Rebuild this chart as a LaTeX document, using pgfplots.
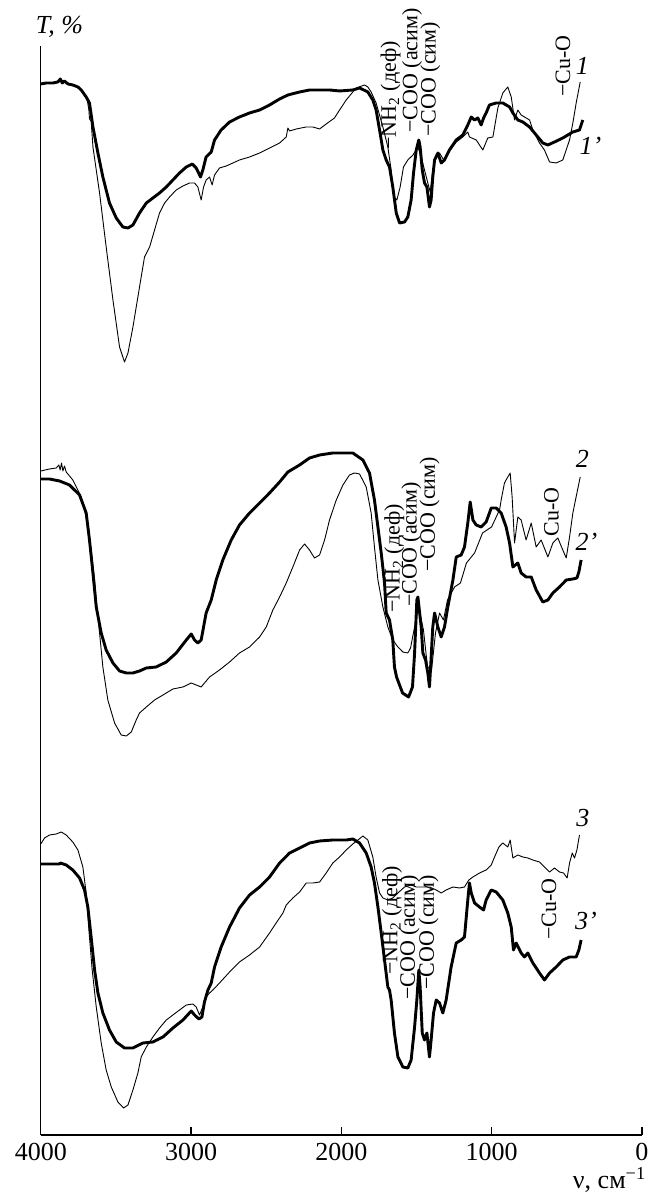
\documentclass[border=0pt]{standalone}
\usepackage{fontspec}
\setmainfont{Liberation Serif}
\usepackage{pgfplots}
\pgfplotsset{compat=1.18}
\newcommand{\annfont}{\fontsize{11}{13}\selectfont}
\newcommand{\labfont}{\fontsize{13}{15}\selectfont\itshape}
\newcommand{\tickfont}{\fontsize{13}{15}\selectfont}
\begin{document}
\begin{tikzpicture}
\begin{axis}[
  at={(0pt,0pt)}, anchor=south west,
  scale only axis, width=300.6pt, height=544.5pt,
  x dir=reverse, xmin=0, xmax=4000, ymin=63, ymax=1152,
  axis lines=left, axis line style={-, line width=0.6pt},
  xtick={0,1000,2000,3000,4000},
  xticklabels={0,1000,2000,3000,4000},
  ytick=\empty,
  tick align=inside, major tick length=4.2pt,
  tick style={line width=0.6pt, black},
  xticklabel style={font=\tickfont, yshift=-0.5pt},
  clip=false,
  every axis plot/.append style={black, line join=round, mark=none},
]
% ---------- panel 1 : thick (1')
\addplot[line width=1.45pt] coordinates {
(4000,1114)(3964,1115)(3919,1115)(3886,1116)(3870,1119)(3857,1115)(3842,1117)(3820,1114)
(3787,1113)(3753,1111)(3731,1108)(3698,1101)(3676,1095)(3653,1071)(3620,1045)(3587,1021)
(3543,995)(3498,980)(3454,971)(3420,970)(3387,973)(3343,985)(3298,995)(3254,1000)(3210,1005)
(3165,1011)(3121,1018)(3077,1025)(3032,1031)(2992,1034)(2966,1030)(2937,1021)(2922,1028)
(2900,1041)(2866,1046)(2844,1058)(2800,1068)(2744,1076)(2678,1081)(2611,1085)(2544,1088)
(2478,1093)(2411,1099)(2356,1103)(2278,1106)(2212,1108)(2079,1108)(2012,1107)(1924,1108)
(1879,1110)(1824,1106)(1791,1098)(1769,1088)(1746,1068)(1724,1048)(1702,1038)(1680,1031)
(1658,1011)(1635,985)(1613,975)(1580,976)(1558,981)(1536,998)(1520,1025)(1502,1048)
(1485,1058)(1476,1051)(1462,1028)(1447,1015)(1431,1011)(1414,991)(1403,998)(1392,1021)
(1380,1038)(1358,1045)(1336,1035)(1314,1038)(1281,1048)(1236,1058)(1192,1063)(1159,1073)
(1136,1081)(1114,1078)(1092,1080)(1070,1073)(1054,1080)(1037,1085)(1015,1093)(970,1095)
(926,1095)(881,1091)(859,1085)(826,1078)(793,1076)(748,1071)(704,1063)(660,1055)(626,1053)
(582,1056)(527,1060)(460,1066)(416,1068)(394,1078)
};
% ---------- panel 1 : thin (1)
\addplot[line width=0.45pt] coordinates {
(4000,1114)(3919,1115)(3870,1118)(3820,1115)(3753,1111)(3720,1106)(3691,1098)(3680,1088)
(3676,1079)(3665,1077)(3653,1051)(3609,1005)(3565,951)(3520,898)(3476,851)(3443,836)
(3420,845)(3387,871)(3343,911)(3310,941)(3276,951)(3243,968)(3210,985)(3176,995)(3143,1001)
(3099,1008)(3054,1012)(3010,1015)(2977,1015)(2955,1011)(2933,998)(2917,1011)(2900,1018)
(2877,1021)(2860,1013)(2844,1023)(2811,1030)(2766,1032)(2722,1035)(2678,1038)(2611,1041)
(2544,1045)(2478,1050)(2411,1055)(2367,1061)(2356,1070)(2345,1067)(2300,1069)(2234,1071)
(2190,1071)(2145,1069)(2101,1074)(2046,1080)(2012,1088)(1968,1098)(1924,1106)(1901,1110)
(1846,1113)(1824,1111)(1802,1106)(1769,1095)(1724,1071)(1691,1051)(1669,1028)(1651,1001)
(1631,998)(1609,1011)(1587,1031)(1558,1038)(1524,1043)(1491,1051)(1469,1041)(1447,1028)
(1425,1015)(1409,1006)(1392,1028)(1369,1043)(1347,1045)(1320,1038)(1281,1047)(1236,1056)
(1192,1061)(1159,1066)(1148,1061)(1103,1058)(1081,1053)(1059,1048)(1026,1060)(992,1061)
(959,1090)(926,1105)(893,1111)(870,1101)(848,1078)(826,1088)(804,1083)(771,1080)(748,1078)
(726,1068)(682,1055)(649,1048)(615,1036)(571,1035)(527,1038)(482,1058)(460,1075)(438,1095)
(411,1116)
};
% ---------- panel 2 : thick (2')
\addplot[line width=1.45pt] coordinates {
(4000,719)(3942,719)(3875,717)(3809,713)(3742,703)(3698,685)(3676,658)(3653,625)(3631,591)
(3598,565)(3565,548)(3520,535)(3476,527)(3431,525)(3387,525)(3343,527)(3298,530)(3232,531)
(3165,536)(3099,545)(3032,558)(2999,564)(2977,558)(2955,555)(2933,558)(2917,571)(2900,585)
(2866,598)(2833,618)(2789,638)(2733,658)(2678,673)(2611,685)(2544,695)(2478,705)(2411,716)
(2356,726)(2278,733)(2212,740)(2145,743)(2057,745)(1968,745)(1924,745)(1857,738)(1813,725)
(1780,698)(1757,671)(1735,645)(1713,615)(1702,585)(1680,578)(1658,558)(1647,531)(1633,521)
(1593,505)(1553,501)(1527,511)(1513,545)(1498,598)(1491,601)(1469,571)(1458,545)(1440,538)
(1425,525)(1414,511)(1403,540)(1392,571)(1380,585)(1358,571)(1336,561)(1314,571)(1292,591)
(1258,618)(1236,641)(1203,643)(1181,651)(1159,675)(1143,696)(1125,678)(1103,673)(1070,671)
(1037,676)(1003,690)(970,690)(937,685)(904,671)(881,655)(859,631)(826,635)(804,625)(771,621)
(737,621)(704,608)(660,596)(626,598)(593,605)(549,611)(504,618)(460,619)(433,620)(420,626)
(405,638)
};
% ---------- panel 2 : thin (2)
\addplot[line width=0.45pt] coordinates {
(4000,727)(3942,729)(3897,730)(3880,733)(3871,728)(3862,735)(3853,727)(3842,732)(3831,726)
(3787,718)(3731,701)(3698,681)(3665,648)(3642,618)(3627,591)(3609,565)(3587,531)(3554,498)
(3509,475)(3465,463)(3431,462)(3398,466)(3365,478)(3343,485)(3298,491)(3243,498)(3187,503)
(3121,509)(3054,511)(2999,515)(2966,513)(2933,511)(2911,515)(2877,521)(2811,528)(2744,536)
(2678,545)(2611,551)(2544,561)(2500,571)(2456,588)(2411,601)(2367,615)(2323,631)(2278,648)
(2245,654)(2212,648)(2179,640)(2145,643)(2112,658)(2079,678)(2034,698)(1990,713)(1946,723)
(1913,725)(1879,724)(1835,711)(1802,685)(1780,651)(1757,618)(1724,591)(1691,571)(1658,558)
(1624,551)(1591,546)(1558,545)(1540,550)(1513,571)(1487,591)(1454,568)(1427,531)(1400,528)
(1374,565)(1347,585)(1321,578)(1294,598)(1247,611)(1208,615)(1168,635)(1114,645)(1061,665)
(1001,671)(948,688)(937,698)(915,715)(893,721)(877,725)(864,701)(848,655)(826,681)(804,678)
(771,658)(737,675)(704,651)(671,658)(626,641)(593,655)(560,660)(527,648)(504,640)(482,661)
(460,685)(433,705)(411,721)
};
% ---------- panel 3 : thick (3')
\addplot[line width=1.45pt] coordinates {
(4000,334)(3942,334)(3875,334)(3871,335)(3831,333)(3787,328)(3742,320)(3709,308)(3687,291)
(3665,261)(3642,228)(3620,205)(3587,185)(3543,168)(3498,156)(3443,150)(3387,150)(3321,155)
(3254,156)(3187,161)(3121,170)(3054,178)(2999,187)(2977,183)(2948,179)(2928,181)(2911,196)
(2888,208)(2866,215)(2844,231)(2800,251)(2744,271)(2678,290)(2611,303)(2544,311)(2478,321)
(2411,335)(2345,345)(2278,350)(2212,355)(2145,357)(2057,358)(1968,358)(1924,359)(1879,355)
(1835,345)(1802,331)(1780,315)(1757,291)(1735,265)(1713,238)(1691,211)(1680,208)(1669,198)
(1647,165)(1624,141)(1591,131)(1558,130)(1536,138)(1513,171)(1498,198)(1485,228)(1476,211)
(1462,165)(1447,158)(1431,165)(1414,141)(1403,158)(1387,185)(1369,198)(1347,195)(1325,185)
(1303,198)(1270,231)(1236,255)(1203,258)(1181,261)(1159,298)(1148,315)(1136,305)(1114,295)
(1081,291)(1054,288)(1037,298)(1003,308)(970,306)(926,298)(893,285)(870,271)(855,248)
(837,255)(804,245)(782,241)(760,245)(726,235)(682,225)(649,218)(615,225)(571,231)(527,238)
(482,241)(438,241)(420,248)(405,258)
};
% ---------- panel 3 : thin (3)
\addplot[line width=0.45pt] coordinates {
(4000,354)(3975,360)(3942,363)(3897,364)(3864,366)(3831,363)(3787,356)(3753,348)(3720,331)
(3698,305)(3680,268)(3658,228)(3631,191)(3598,155)(3565,128)(3531,111)(3487,96)(3449,90)
(3420,93)(3387,108)(3354,125)(3332,141)(3298,151)(3254,161)(3210,170)(3165,178)(3121,183)
(3077,188)(3032,193)(2988,194)(2966,191)(2944,183)(2922,191)(2900,201)(2877,205)(2855,208)
(2811,215)(2744,226)(2678,236)(2611,243)(2544,251)(2478,265)(2434,275)(2389,285)(2367,293)
(2323,300)(2278,306)(2234,315)(2190,315)(2145,316)(2101,325)(2057,335)(2012,341)(1968,348)
(1924,354)(1890,358)(1857,362)(1824,358)(1791,341)(1769,321)(1746,305)(1724,300)(1691,298)
(1658,300)(1624,305)(1580,311)(1536,313)(1502,311)(1458,311)(1414,311)(1369,308)(1336,305)
(1303,308)(1258,311)(1214,310)(1181,311)(1152,318)(1125,321)(1081,325)(1037,328)(1003,333)
(981,341)(952,351)(926,355)(893,351)(877,358)(859,340)(826,343)(793,341)(760,340)(726,338)
(682,336)(649,331)(615,326)(582,330)(549,326)(522,325)(498,320)(482,335)(464,345)(449,340)
(433,348)(416,363)
};
% ---------- annotations
\begin{scope}[every node/.style={rotate=90, anchor=west, inner sep=0pt, font=\annfont}]
\node at (axis cs:1673,1048) {−NH\textsubscript{2} (деф)};
\node at (axis cs:1530,1065) {−COO (асим)};
\node at (axis cs:1408,1061) {−COO (сим)};
\node at (axis cs:526,1101) {−Cu-O};
\node at (axis cs:1647,585) {−NH\textsubscript{2} (деф)};
\node at (axis cs:1534,591) {−COO (асим)};
\node at (axis cs:1414,626) {−COO (сим)};
\node at (axis cs:602,661) {Cu-O};
\node at (axis cs:1663,223) {−NH\textsubscript{2} (деф)};
\node at (axis cs:1547,198) {−COO (асим)};
\node at (axis cs:1420,208) {−COO (сим)};
\node at (axis cs:619,258) {−Cu-O};
\end{scope}
\begin{scope}[every node/.style={inner sep=0pt, font=\labfont}]
\node at (axis cs:396,1132) {1};
\node at (axis cs:343,1052) {1'};
\node at (axis cs:396,739) {2};
\node at (axis cs:369,656) {2'};
\node at (axis cs:393,380) {3};
\node at (axis cs:373,277) {3'};
\end{scope}
\node[anchor=base west, inner sep=0pt, font=\tickfont\itshape] at (axis cs:4035,1164) {T, \%};
\node[anchor=base east, inner sep=0pt, font=\tickfont] at (axis cs:-30,10) {ν, см\textsuperscript{−1}};
\end{axis}
\path (-20.4pt,-31.5pt) rectangle (304.1pt,567.5pt);
\end{tikzpicture}
\end{document}
